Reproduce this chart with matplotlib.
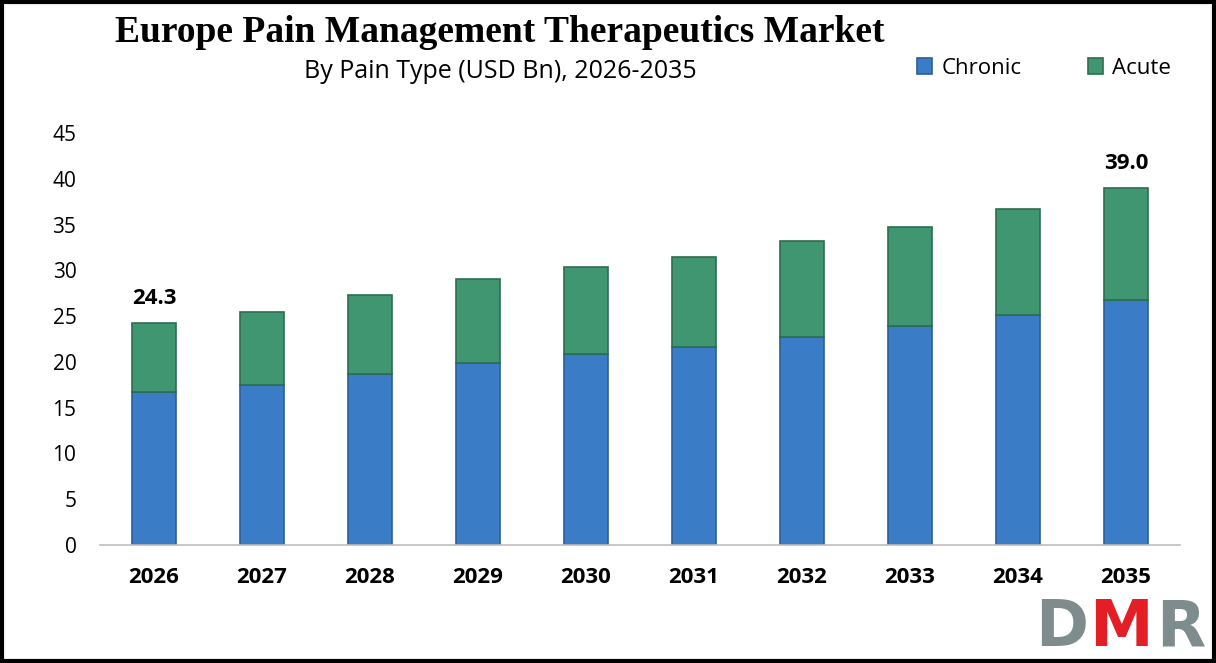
import matplotlib.pyplot as plt
from matplotlib.patches import Rectangle

# --- data ---
years = ["2026", "2027", "2028", "2029", "2030", "2031", "2032", "2033", "2034", "2035"]
chronic = [16.7, 17.5, 18.7, 19.9, 20.9, 21.6, 22.7, 23.9, 25.1, 26.8]
totals = [24.3, 25.5, 27.3, 29.1, 30.4, 31.5, 33.2, 34.8, 36.7, 39.0]
acute = [t - c for t, c in zip(totals, chronic)]
labelled = {0: "24.3", 9: "39.0"}

BLUE = "#3b7cc6"
BLUE_EDGE = "#2c5e98"
GREEN = "#3f9670"
GREEN_EDGE = "#2d6c51"

fig = plt.figure(figsize=(12.16, 6.63), dpi=100)
ax = fig.add_axes([100 / 1216, 1 - 545 / 663, 1080 / 1216, 420 / 663])

x = list(range(len(years)))
ax.bar(x, chronic, width=0.41, color=BLUE, edgecolor=BLUE_EDGE, linewidth=1.2, label="Chronic")
ax.bar(x, acute, width=0.41, bottom=chronic, color=GREEN, edgecolor=GREEN_EDGE, linewidth=1.2, label="Acute")

for i, txt in labelled.items():
    ax.text(i, totals[i] + 1.5, txt, ha="center", va="bottom",
            fontsize=16, fontweight="bold", family="Open Sans")

ax.set_xlim(-0.5, 9.5)
ax.set_ylim(0, 45.9)
ax.set_yticks(range(0, 50, 5))
ax.set_xticks(x)
ax.set_xticklabels(years, fontsize=16, fontweight="bold", family="Open Sans")
ax.tick_params(axis="y", labelsize=15, length=0, pad=17)
ax.tick_params(axis="x", length=0, pad=16)
for lbl in ax.get_yticklabels():
    lbl.set_family("Open Sans")
for side in ["top", "right", "left"]:
    ax.spines[side].set_visible(False)
ax.spines["bottom"].set_color("#bfbfbf")
ax.spines["bottom"].set_linewidth(1.2)

# title block
fig.text(500 / 1216, 1 - 32 / 663, "Europe Pain Management Therapeutics Market",
         ha="center", va="center", fontsize=27, fontweight="bold", family="Liberation Serif")
fig.text(500 / 1216, 1 - 71 / 663, "By Pain Type (USD Bn), 2026-2035",
         ha="center", va="center", fontsize=18, family="Open Sans")

fig.legend(loc="center", bbox_to_anchor=(1044 / 1216, 1 - 68 / 663), ncol=2, frameon=False,
           handlelength=0.7, handleheight=0.7, columnspacing=3.0,
           handletextpad=0.4, prop={"family": "Open Sans", "size": 16})

# logo
fig.text(1062 / 1216, 1 - 628 / 663, "D", color="#7f8c8d", fontsize=46, fontweight="bold",
         ha="center", va="center", family="DejaVu Sans")
fig.text(1121 / 1216, 1 - 628 / 663, "M", color="#e31e24", fontsize=46, fontweight="bold",
         ha="center", va="center", family="DejaVu Sans")
fig.text(1181 / 1216, 1 - 628 / 663, "R", color="#7f8c8d", fontsize=46, fontweight="bold",
         ha="center", va="center", family="DejaVu Sans")

# outer border
fig.patches.append(Rectangle((0.002, 0.003), 0.996, 0.994, transform=fig.transFigure,
                             fill=False, edgecolor="black", linewidth=3))

fig.savefig("out.png", dpi=100)
